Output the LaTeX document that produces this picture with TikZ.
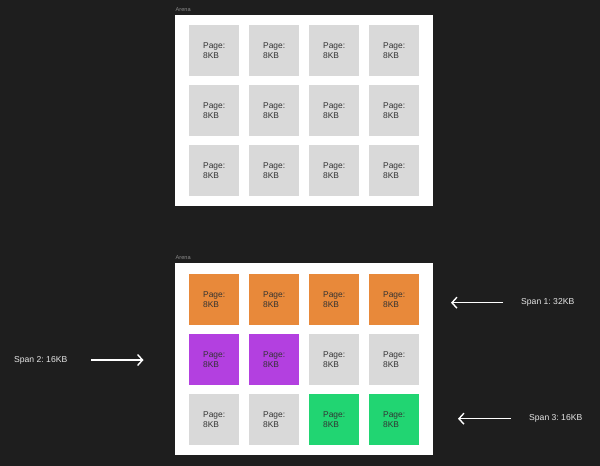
\documentclass[tikz,border=0pt]{standalone}
\usepackage{fontspec}
\setmainfont{Liberation Sans}
\usetikzlibrary{arrows.meta}
\definecolor{bg}{HTML}{1E1E1E}
\definecolor{tilegray}{HTML}{D9D9D9}
\definecolor{tileorange}{HTML}{E8893A}
\definecolor{tilepurple}{HTML}{B340E0}
\definecolor{tilegreen}{HTML}{21D572}
\definecolor{labelgray}{HTML}{8A8A8A}
\definecolor{spantext}{HTML}{E6E6E6}
\frenchspacing
\begin{document}
\begin{tikzpicture}[x=1pt,y=-1pt,
  arena/.style={fill=white,draw=none},
  arenalabel/.style={anchor=west,inner sep=0pt,text=labelgray,font=\fontsize{5.6}{6}\selectfont},
  tile/.style={anchor=north west,minimum width=50pt,minimum height=50.5pt,
    text width=22pt,inner xsep=14pt,inner ysep=0pt,align=left,
    text=black!80,font=\fontsize{8.4}{9.6}\selectfont},
  spanlabel/.style={anchor=west,inner sep=0pt,text=spantext,font=\fontsize{8.6}{10}\selectfont},
  spanarrow/.style={draw=white,line width=1.3pt,-{Straight Barb[length=5pt,width=11pt,line width=1.4pt]}}
]
\useasboundingbox (0,0) rectangle (600,466);
\fill[bg] (0,0) rectangle (600,466);

% top arena
\fill[arena] (175,15) rectangle (432.5,206);
\node[arenalabel] (lbl1) at (175.5,10) {Arena};
\foreach \r/\y in {1/25,2/85,3/145}{
  \foreach \c/\x in {1/189,2/249,3/309,4/369}{
    \node[tile,fill=tilegray] (ta-\r-\c) at (\x,\y) {Page:\\8KB};
  }
}

% bottom arena
\fill[arena] (175,263) rectangle (432.5,455);
\node[arenalabel] (lbl2) at (175.5,258) {Arena};
\foreach \c/\x in {1/189,2/249,3/309,4/369}{
  \node[tile,fill=tileorange] (tb-1-\c) at (\x,274) {Page:\\8KB};
}
\node[tile,fill=tilepurple] (tb-2-1) at (189,334) {Page:\\8KB};
\node[tile,fill=tilepurple] (tb-2-2) at (249,334) {Page:\\8KB};
\node[tile,fill=tilegray] (tb-2-3) at (309,334) {Page:\\8KB};
\node[tile,fill=tilegray] (tb-2-4) at (369,334) {Page:\\8KB};
\node[tile,fill=tilegray] (tb-3-1) at (189,394) {Page:\\8KB};
\node[tile,fill=tilegray] (tb-3-2) at (249,394) {Page:\\8KB};
\node[tile,fill=tilegreen] (tb-3-3) at (309,394) {Page:\\8KB};
\node[tile,fill=tilegreen] (tb-3-4) at (369,394) {Page:\\8KB};

% span labels and arrows
\node[spanlabel] (s1) at (521,302.7) {Span 1: 32KB};
\coordinate (a1s) at (503,302.7);
\coordinate (a1e) at (451,302.7);
\draw[spanarrow] (a1s) -- (a1e);

\node[spanlabel] (s2) at (14,360) {Span 2: 16KB};
\coordinate (a2s) at (91,360);
\coordinate (a2e) at (143.5,360);
\draw[spanarrow] (a2s) -- (a2e);

\node[spanlabel] (s3) at (529,418.7) {Span 3: 16KB};
\coordinate (a3s) at (511,418.7);
\coordinate (a3e) at (458,418.7);
\draw[spanarrow] (a3s) -- (a3e);
\end{tikzpicture}
\end{document}
